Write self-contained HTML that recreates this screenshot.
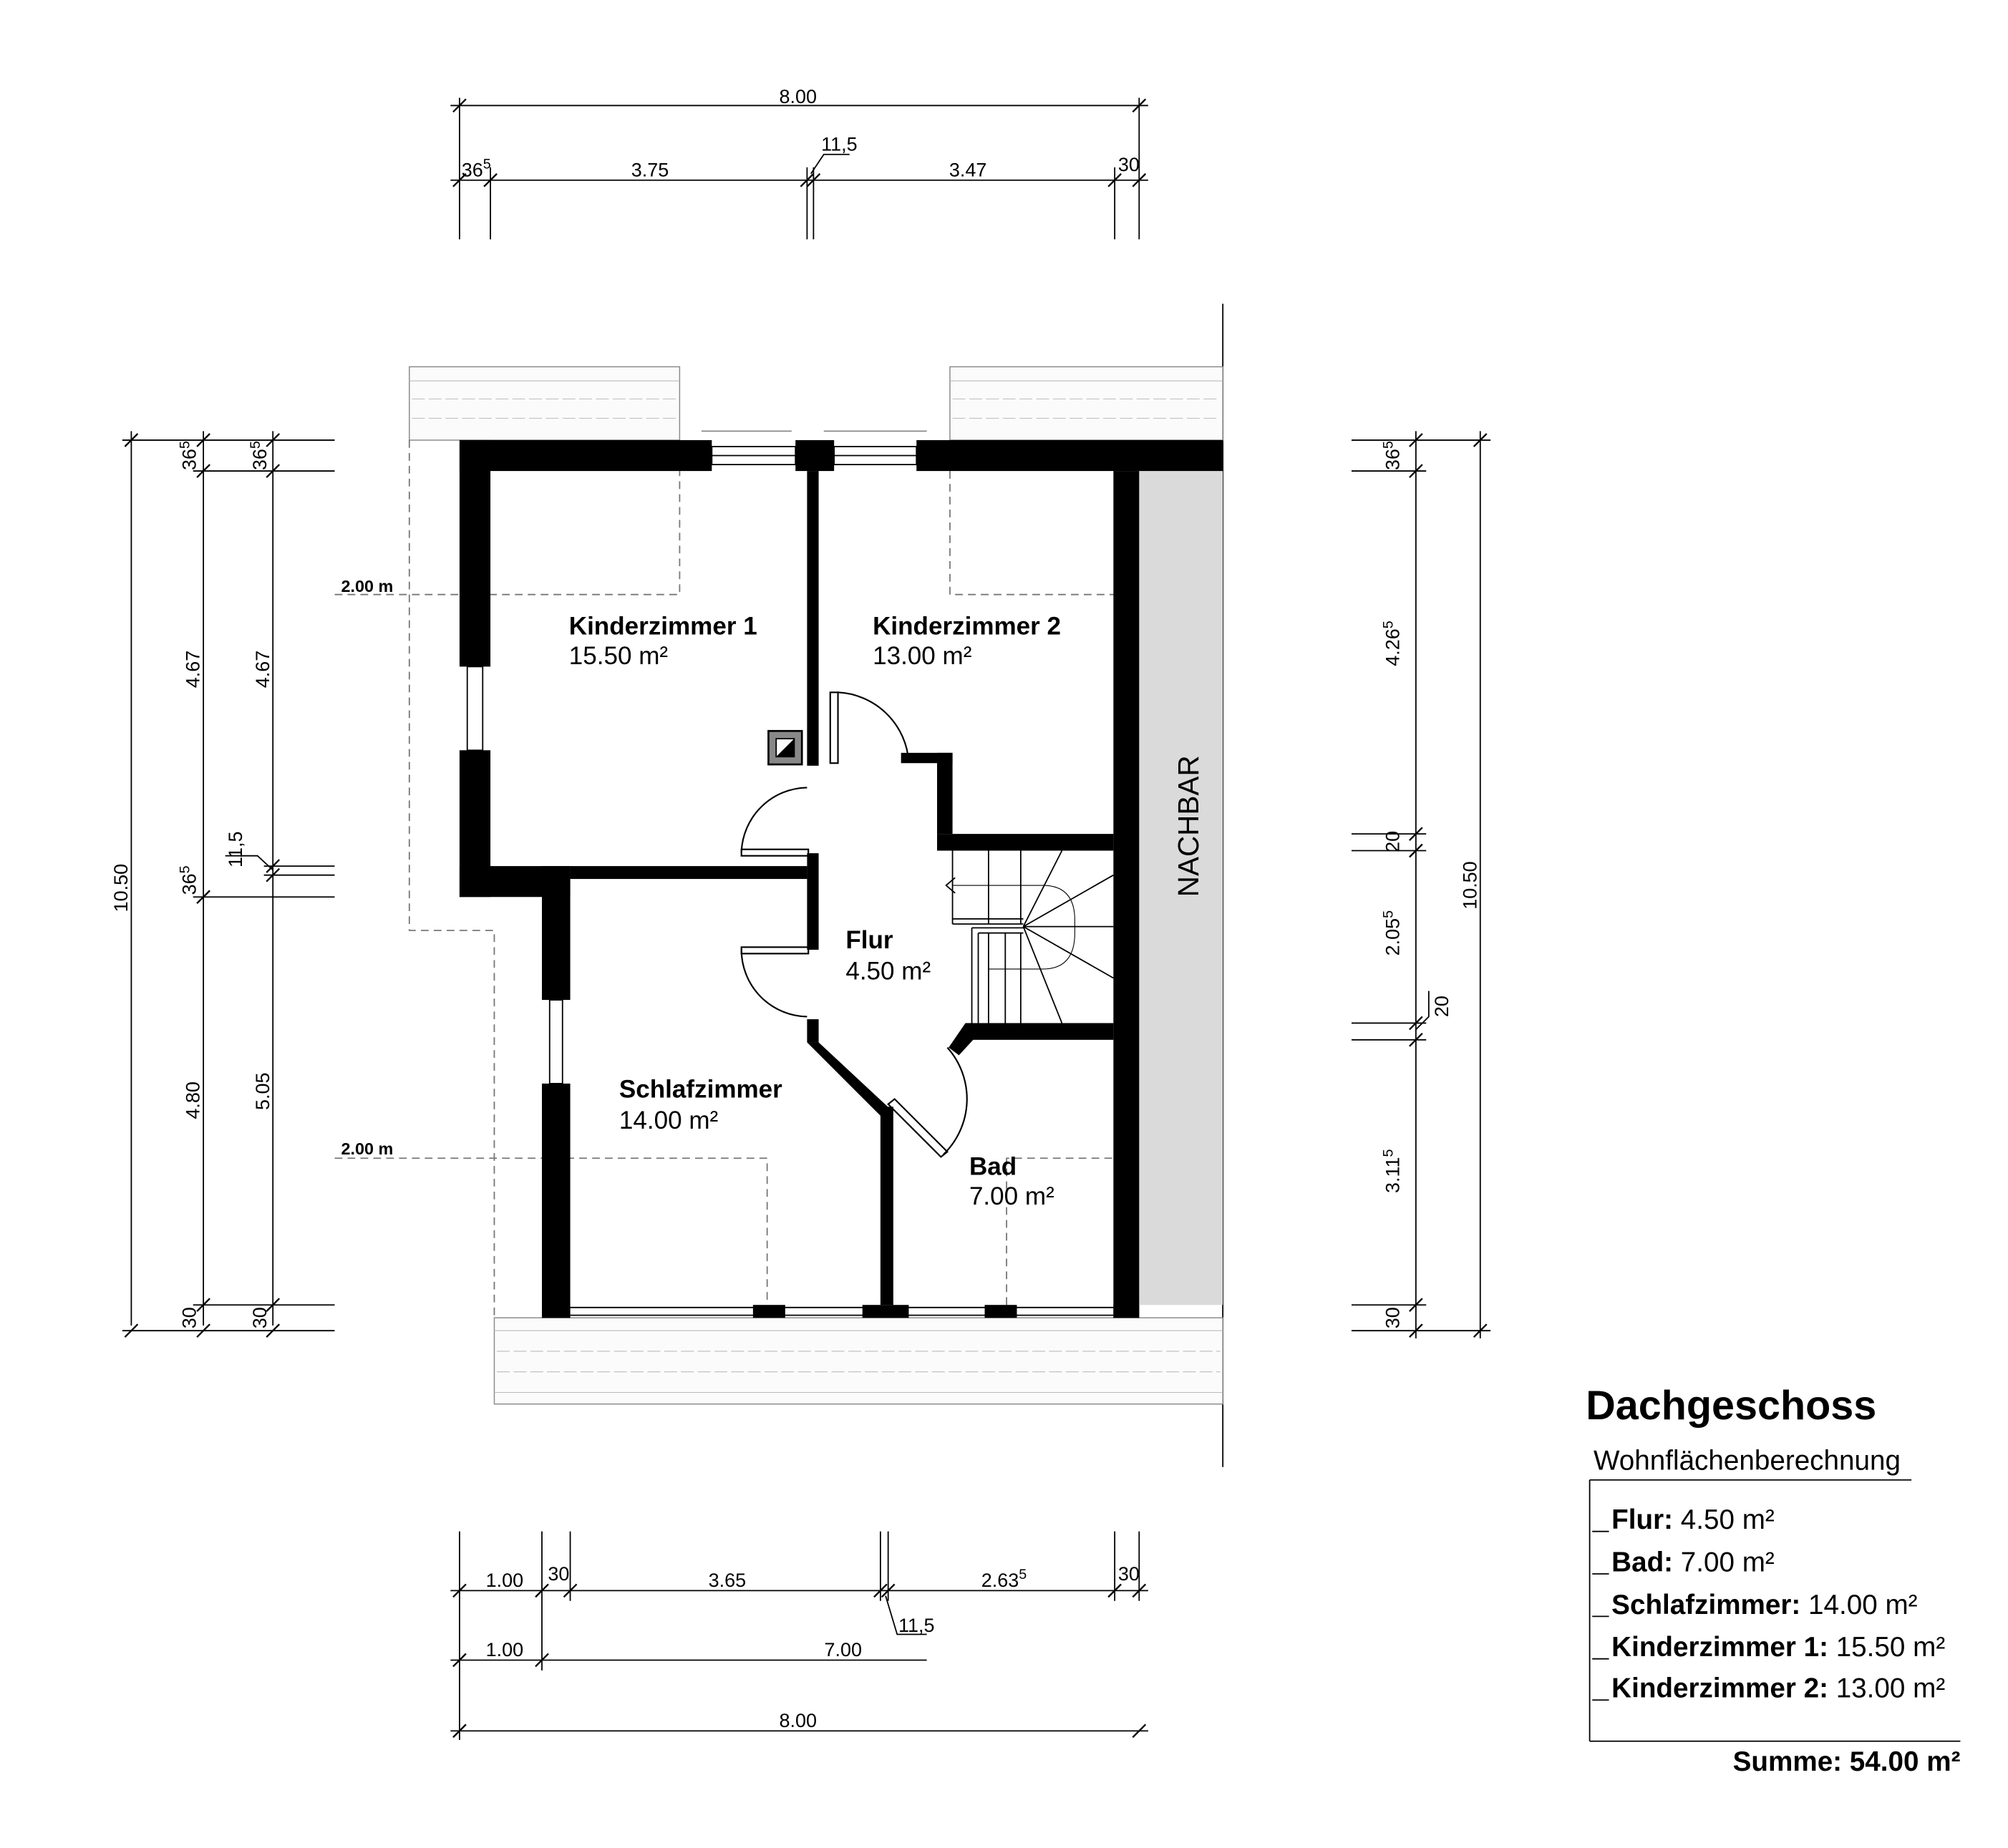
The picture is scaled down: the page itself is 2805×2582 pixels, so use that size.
<!DOCTYPE html>
<html><head><meta charset="utf-8"><style>
html,body{margin:0;padding:0;background:#fff}
svg{display:block}
text{font-family:"Liberation Sans",Arial,sans-serif}
.d{font-family:"Liberation Sans Narrow","Liberation Sans",sans-serif;font-size:15px}
</style></head><body>
<svg width="2805" height="2582" viewBox="0 0 1560 1436" xmlns="http://www.w3.org/2000/svg">
<rect width="1560" height="1436" fill="#fff"/>
<g stroke="#000" stroke-width="1" fill="none">
<line x1="350" y1="82" x2="892" y2="82"/>
<line x1="350" y1="140" x2="892" y2="140"/>
<line x1="357" y1="76" x2="357" y2="186"/><line x1="885" y1="76" x2="885" y2="186"/>
<line x1="381" y1="130" x2="381" y2="186"/><line x1="627" y1="130" x2="627" y2="186"/>
<line x1="632" y1="130" x2="632" y2="186"/><line x1="866" y1="130" x2="866" y2="186"/>
<g stroke-width="1.3">
<line x1="352" y1="87" x2="362" y2="77"/><line x1="880" y1="87" x2="890" y2="77"/>
<line x1="352" y1="145" x2="362" y2="135"/><line x1="376" y1="145" x2="386" y2="135"/>
<line x1="622" y1="145" x2="632" y2="135"/><line x1="627" y1="145" x2="637" y2="135"/>
<line x1="861" y1="145" x2="871" y2="135"/><line x1="880" y1="145" x2="890" y2="135"/>
</g>
<polyline points="630,135 640,120 660,120"/>
<line x1="350" y1="1236" x2="892" y2="1236"/>
<line x1="350" y1="1290" x2="720" y2="1290"/>
<line x1="350" y1="1345" x2="892" y2="1345"/>
<line x1="357" y1="1190" x2="357" y2="1352"/><line x1="885" y1="1190" x2="885" y2="1244"/>
<line x1="421" y1="1190" x2="421" y2="1298"/><line x1="443" y1="1190" x2="443" y2="1244"/>
<line x1="684" y1="1190" x2="684" y2="1244"/><line x1="690" y1="1190" x2="690" y2="1244"/>
<line x1="866" y1="1190" x2="866" y2="1244"/>
<g stroke-width="1.3">
<line x1="352" y1="1241" x2="362" y2="1231"/><line x1="416" y1="1241" x2="426" y2="1231"/>
<line x1="438" y1="1241" x2="448" y2="1231"/><line x1="679" y1="1241" x2="689" y2="1231"/>
<line x1="685" y1="1241" x2="695" y2="1231"/><line x1="861" y1="1241" x2="871" y2="1231"/>
<line x1="880" y1="1241" x2="890" y2="1231"/>
<line x1="352" y1="1295" x2="362" y2="1285"/><line x1="416" y1="1295" x2="426" y2="1285"/>
<line x1="352" y1="1350" x2="362" y2="1340"/><line x1="880" y1="1350" x2="890" y2="1340"/>
</g>
<polyline points="688,1240 697,1270 720,1270"/>
<line x1="102" y1="335" x2="102" y2="1030"/>
<line x1="158" y1="335" x2="158" y2="1030"/>
<line x1="212" y1="335" x2="212" y2="1030"/>
<line x1="95" y1="342" x2="260" y2="342"/><line x1="95" y1="1034" x2="260" y2="1034"/>
<line x1="150" y1="366" x2="260" y2="366"/><line x1="150" y1="1014" x2="260" y2="1014"/>
<line x1="150" y1="697" x2="260" y2="697"/><line x1="205" y1="673" x2="260" y2="673"/>
<line x1="205" y1="680" x2="260" y2="680"/>
<g stroke-width="1.3">
<line x1="97" y1="347" x2="107" y2="337"/><line x1="97" y1="1039" x2="107" y2="1029"/>
<line x1="153" y1="347" x2="163" y2="337"/><line x1="153" y1="371" x2="163" y2="361"/>
<line x1="153" y1="702" x2="163" y2="692"/><line x1="153" y1="1019" x2="163" y2="1009"/><line x1="153" y1="1039" x2="163" y2="1029"/>
<line x1="207" y1="347" x2="217" y2="337"/><line x1="207" y1="371" x2="217" y2="361"/>
<line x1="207" y1="678" x2="217" y2="668"/><line x1="207" y1="685" x2="217" y2="675"/>
<line x1="207" y1="1019" x2="217" y2="1009"/><line x1="207" y1="1039" x2="217" y2="1029"/>
</g>
<polyline points="212,676 200,665 175,665"/>
<line x1="1100" y1="335" x2="1100" y2="1040"/>
<line x1="1150" y1="335" x2="1150" y2="1040"/>
<line x1="1050" y1="342" x2="1158" y2="342"/><line x1="1050" y1="1034" x2="1158" y2="1034"/>
<line x1="1050" y1="366" x2="1108" y2="366"/><line x1="1050" y1="648" x2="1108" y2="648"/>
<line x1="1050" y1="661" x2="1108" y2="661"/><line x1="1050" y1="795" x2="1108" y2="795"/>
<line x1="1050" y1="808" x2="1108" y2="808"/><line x1="1050" y1="1014" x2="1108" y2="1014"/>
<g stroke-width="1.3">
<line x1="1095" y1="347" x2="1105" y2="337"/><line x1="1095" y1="371" x2="1105" y2="361"/>
<line x1="1095" y1="653" x2="1105" y2="643"/><line x1="1095" y1="666" x2="1105" y2="656"/>
<line x1="1095" y1="800" x2="1105" y2="790"/><line x1="1095" y1="813" x2="1105" y2="803"/>
<line x1="1095" y1="1019" x2="1105" y2="1009"/><line x1="1095" y1="1039" x2="1105" y2="1029"/>
<line x1="1145" y1="347" x2="1155" y2="337"/><line x1="1145" y1="1039" x2="1155" y2="1029"/>
</g>
<polyline points="1100,800 1110,790 1110,770"/>
<line x1="950" y1="236" x2="950" y2="1140"/>
</g>
<g class="d" fill="#000" text-anchor="middle">
<text x="620" y="80">8.00</text>
<text x="505" y="137">3.75</text><text x="752" y="137">3.47</text>
<text x="370" y="137">36<tspan dy="-6" font-size="11">5</tspan></text>
<text x="652" y="117">11,5</text><text x="877" y="133">30</text>
<text x="392" y="1233">1.00</text><text x="434" y="1228">30</text>
<text x="565" y="1233">3.65</text><text x="780" y="1233">2.63<tspan dy="-6" font-size="11">5</tspan></text>
<text x="877" y="1228">30</text><text x="712" y="1268">11,5</text>
<text x="392" y="1287">1.00</text><text x="655" y="1287">7.00</text>
<text x="620" y="1342">8.00</text>
</g>
<g class="d" fill="#000" text-anchor="middle">
<text transform="translate(99,690) rotate(-90)">10.50</text>
<text transform="translate(155,520) rotate(-90)">4.67</text>
<text transform="translate(209,520) rotate(-90)">4.67</text>
<text transform="translate(155,855) rotate(-90)">4.80</text>
<text transform="translate(209,848) rotate(-90)">5.05</text>
<text transform="translate(152,354) rotate(-90)">36<tspan dy="-5" font-size="11">5</tspan></text>
<text transform="translate(207,354) rotate(-90)">36<tspan dy="-5" font-size="11">5</tspan></text>
<text transform="translate(152,684) rotate(-90)">36<tspan dy="-5" font-size="11">5</tspan></text>
<text transform="translate(188,660) rotate(-90)">11,5</text>
<text transform="translate(152,1024) rotate(-90)">30</text>
<text transform="translate(207,1024) rotate(-90)">30</text>
<text transform="translate(1147,688) rotate(-90)">10.50</text>
<text transform="translate(1087,354) rotate(-90)">36<tspan dy="-5" font-size="11">5</tspan></text>
<text transform="translate(1087,500) rotate(-90)">4.26<tspan dy="-5" font-size="11">5</tspan></text>
<text transform="translate(1087,654) rotate(-90)">20</text>
<text transform="translate(1087,725) rotate(-90)">2.05<tspan dy="-5" font-size="11">5</tspan></text>
<text transform="translate(1125,782) rotate(-90)">20</text>
<text transform="translate(1087,910) rotate(-90)">3.11<tspan dy="-5" font-size="11">5</tspan></text>
<text transform="translate(1087,1024) rotate(-90)">30</text>
</g>
<rect x="885" y="366" width="65" height="648" fill="#dadada"/>
<text transform="translate(931,642) rotate(-90)" font-size="22.5" text-anchor="middle">NACHBAR</text>
<g fill="#fbfbfb" stroke="#888" stroke-width="0.8">
<rect x="318" y="285" width="210" height="57"/>
<rect x="738" y="285" width="212" height="57"/>
<rect x="384" y="1024" width="566" height="67"/>
</g>
<g stroke="#bbb" stroke-width="0.6" fill="none">
<line x1="318" y1="296" x2="528" y2="296"/><line x1="738" y1="296" x2="950" y2="296"/>
<line x1="384" y1="1034" x2="950" y2="1034"/><line x1="384" y1="1082" x2="950" y2="1082"/>
<path d="M320 310 H526 M320 325 H526 M740 310 H948 M740 325 H948 M386 1050 H948 M386 1066 H948" stroke-dasharray="10 3"/>
</g>
<g stroke="#777" stroke-width="1" fill="none" stroke-dasharray="6 4">
<polyline points="260,462 528,462 528,366"/>
<polyline points="318,342 318,723 384,723 384,1024"/>
<polyline points="738,366 738,462 866,462"/>
<polyline points="260,900 596,900 596,1014"/>
<polyline points="782,1014 782,900 866,900"/>
</g>
<text x="265" y="460" font-size="13" font-weight="bold">2.00 m</text>
<text x="265" y="897" font-size="13" font-weight="bold">2.00 m</text>
<g fill="#000">
<rect x="357" y="342" width="196" height="24"/>
<rect x="618" y="342" width="30" height="24"/>
<rect x="712" y="342" width="238" height="24"/>
<rect x="357" y="342" width="24" height="176"/>
<rect x="357" y="583" width="24" height="114"/>
<rect x="357" y="673" width="86" height="24"/>
<rect x="421" y="673" width="22" height="104"/>
<rect x="421" y="842" width="22" height="182"/>
<rect x="865" y="366" width="20" height="658"/>
<rect x="627" y="366" width="9" height="229"/>
<rect x="443" y="673" width="184" height="10"/>
<rect x="627" y="663" width="9" height="75"/>
<rect x="627" y="792" width="9" height="18"/>
<polygon points="627,810 636,810 694,864 687,870"/>
<rect x="684" y="860" width="10" height="154"/>
<rect x="728" y="585" width="12" height="63"/>
<rect x="700" y="585" width="40" height="8"/>
<rect x="728" y="648" width="137" height="13"/>
<rect x="750" y="795" width="115" height="13"/>
<polygon points="750,795 756,808 745,820 737,814"/>
<rect x="421" y="1014" width="22" height="10"/>
<rect x="585" y="1014" width="25" height="10"/>
<rect x="670" y="1014" width="36" height="10"/>
<rect x="765" y="1014" width="25" height="10"/>
<rect x="865" y="1014" width="20" height="10"/>
</g>
<g stroke="#000" stroke-width="1" fill="none">
<rect x="553" y="347" width="65" height="14"/>
<line x1="553" y1="354" x2="618" y2="354"/>
<rect x="648" y="347" width="64" height="14"/>
<line x1="648" y1="354" x2="712" y2="354"/>
<line x1="545" y1="335" x2="615" y2="335" stroke="#888"/><line x1="640" y1="335" x2="720" y2="335" stroke="#888"/>
<rect x="363" y="518" width="12" height="65"/>
<rect x="427" y="777" width="10" height="65"/>
<line x1="443" y1="1016" x2="865" y2="1016"/>
<line x1="443" y1="1022" x2="865" y2="1022"/>
</g>
<g stroke="#000" stroke-width="1.2" fill="none">
<rect x="645" y="538" width="6" height="55"/>
<path d="M651 538 A58 58 0 0 1 706 592"/>
<rect x="576" y="660" width="52" height="5"/>
<path d="M576 662 A52 52 0 0 1 627 612"/>
<rect x="576" y="736" width="52" height="5"/>
<path d="M576 738 A52 52 0 0 0 627 790"/>
<polygon points="690,858 695,854 736,895 731,899"/>
<path d="M736 814 A60 60 0 0 1 733 897"/>
</g>
<rect x="597" y="568" width="26" height="26" fill="#888" stroke="#000" stroke-width="1.5"/>
<rect x="603" y="574" width="14" height="14" fill="#fff" stroke="#000"/>
<polygon points="603,588 617,574 617,588" fill="#000"/>
<g stroke="#000" stroke-width="1" fill="none">
<line x1="740" y1="661" x2="740" y2="718"/>
<line x1="768" y1="661" x2="768" y2="718"/><line x1="793" y1="661" x2="793" y2="718"/>
<line x1="740" y1="714" x2="795" y2="714"/><line x1="740" y1="718" x2="795" y2="718"/>
<line x1="755" y1="721" x2="795" y2="721"/><line x1="755" y1="721" x2="755" y2="795"/>
<line x1="760" y1="725" x2="795" y2="725"/><line x1="760" y1="725" x2="760" y2="795"/>
<line x1="768" y1="725" x2="768" y2="795"/><line x1="781" y1="725" x2="781" y2="795"/><line x1="793" y1="725" x2="793" y2="795"/>
<line x1="795" y1="720" x2="825" y2="661"/><line x1="795" y1="720" x2="865" y2="680"/>
<line x1="795" y1="720" x2="865" y2="720"/><line x1="795" y1="720" x2="865" y2="760"/>
<line x1="795" y1="720" x2="825" y2="795"/>
<path d="M740 688 H810 Q835 688 835 715 V725 Q835 753 810 753 H768" stroke-width="0.6"/>
<polyline points="742,682 735,688 742,694"/>
</g>
<g font-size="19.5">
<text x="442" y="493" font-weight="bold">Kinderzimmer 1</text><text x="442" y="516">15.50 m²</text>
<text x="678" y="493" font-weight="bold">Kinderzimmer 2</text><text x="678" y="516">13.00 m²</text>
<text x="657" y="737" font-weight="bold">Flur</text><text x="657" y="761">4.50 m²</text>
<text x="481" y="853" font-weight="bold">Schlafzimmer</text><text x="481" y="877">14.00 m²</text>
<text x="753" y="913" font-weight="bold">Bad</text><text x="753" y="936">7.00 m²</text>
</g>
<text x="1232" y="1103" font-size="32" font-weight="bold">Dachgeschoss</text>
<text x="1238" y="1142" font-size="21.5">Wohnflächenberechnung</text>
<g stroke="#000" stroke-width="1" fill="none">
<line x1="1235" y1="1150" x2="1485" y2="1150"/>
<line x1="1235" y1="1150" x2="1235" y2="1353"/>
<line x1="1235" y1="1353" x2="1523" y2="1353"/>
<line x1="1237" y1="1190" x2="1250" y2="1190"/><line x1="1237" y1="1223" x2="1250" y2="1223"/>
<line x1="1237" y1="1256" x2="1250" y2="1256"/><line x1="1237" y1="1289" x2="1250" y2="1289"/>
<line x1="1237" y1="1321" x2="1250" y2="1321"/>
</g>
<g font-size="21.5">
<text x="1252" y="1188"><tspan font-weight="bold">Flur:</tspan> 4.50 m²</text>
<text x="1252" y="1221"><tspan font-weight="bold">Bad:</tspan> 7.00 m²</text>
<text x="1252" y="1254"><tspan font-weight="bold">Schlafzimmer:</tspan> 14.00 m²</text>
<text x="1252" y="1287"><tspan font-weight="bold">Kinderzimmer 1:</tspan> 15.50 m²</text>
<text x="1252" y="1319"><tspan font-weight="bold">Kinderzimmer 2:</tspan> 13.00 m²</text>
<text x="1523" y="1376" font-weight="bold" text-anchor="end">Summe: 54.00 m²</text>
</g>
</svg>
</body></html>
